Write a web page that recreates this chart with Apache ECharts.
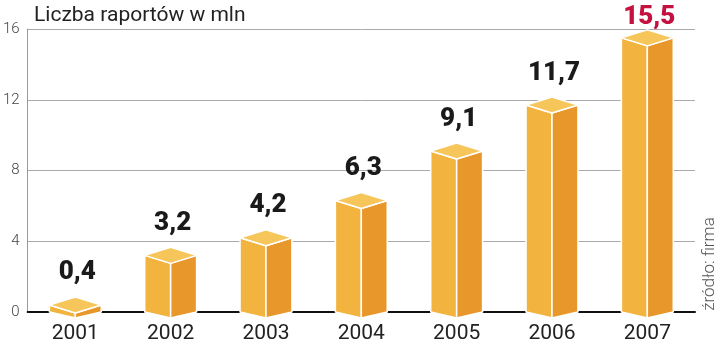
<!DOCTYPE html>
<html><head><meta charset="utf-8">
<script src="https://cdn.jsdelivr.net/npm/echarts@6/dist/echarts.min.js"></script>
<style>html,body{margin:0;padding:0;background:#fff}#c{width:720px;height:346px}</style>
</head><body><div id="c"></div>
<script>
const years = ['2001','2002','2003','2004','2005','2006','2007'];
const values = [0.4, 3.2, 4.2, 6.3, 9.1, 11.7, 15.5];
const valueLabels = ['0,4','3,2','4,2','6,3','9,1','11,7','15,5'];
const highlightIndex = 6;
const titleText = 'Liczba raportów w mln';
const sourceText = 'źródło: firma';

const chart = echarts.init(document.getElementById('c'));
function renderItem(params, api){
  const idx = api.value(0);
  const p = api.coord([idx, api.value(1)]);
  const b = api.coord([idx, 0]);
  const half = api.size([1,0])[0]*0.272;
  const cx = p[0], ty = p[1], by = b[1];
  const d = 8, db = 6;
  const st = {stroke:'#fff', lineWidth:1.5, lineJoin:'round'};
  const ly = Math.max(ty - 32, 17);
  return {type:'group', children:[
    {type:'polygon', shape:{points:[[cx-half,ty],[cx,ty+d],[cx,by+db],[cx-half,by]]}, style:Object.assign({fill:'#F2B43F'},st)},
    {type:'polygon', shape:{points:[[cx,ty+d],[cx+half,ty],[cx+half,by],[cx,by+db]]}, style:Object.assign({fill:'#E8982A'},st)},
    {type:'polygon', shape:{points:[[cx-half,ty],[cx,ty-d],[cx+half,ty],[cx,ty+d]]}, style:Object.assign({fill:'#F7C65A'},st)},
    {type:'text', x:cx+2, y:ly, style:{text:valueLabels[params.dataIndex], fill: params.dataIndex===highlightIndex?'#C4113F':'#1a1a1a', font:'900 26px Roboto', textAlign:'center', textVerticalAlign:'middle'}}
  ]};
}
chart.setOption({
  animation:false,
  title:{text:titleText, left:29, top:0, textStyle:{fontFamily:'Roboto', fontWeight:'normal', fontSize:21, color:'#222'}},
  grid:{left:26, right:25, top:29, bottom:34},
  xAxis:{type:'category', data:years, boundaryGap:true,
    axisLine:{show:true, lineStyle:{color:'#111', width:2}}, axisTick:{show:false},
    axisLabel:{fontFamily:'Roboto', fontSize:21, color:'#222', margin:11}},
  yAxis:{type:'value', min:0, max:16, interval:4,
    axisLine:{show:true, lineStyle:{color:'#999', width:1}}, axisTick:{show:false},
    splitLine:{lineStyle:{color:'#aaa', width:1}},
    axisLabel:{fontFamily:'Roboto', fontSize:15, fontWeight:300, color:'#444', margin:8}},
  series:[{type:'custom', renderItem:renderItem, data:values.map((v,i)=>[i,v]), z:5, clip:false}],
  graphic:[{type:'text', x:710, y:264, rotation:Math.PI/2, style:{text:sourceText, font:'300 17px Roboto', fill:'#555', textAlign:'center', textVerticalAlign:'middle'}}]
});
</script></body></html>
